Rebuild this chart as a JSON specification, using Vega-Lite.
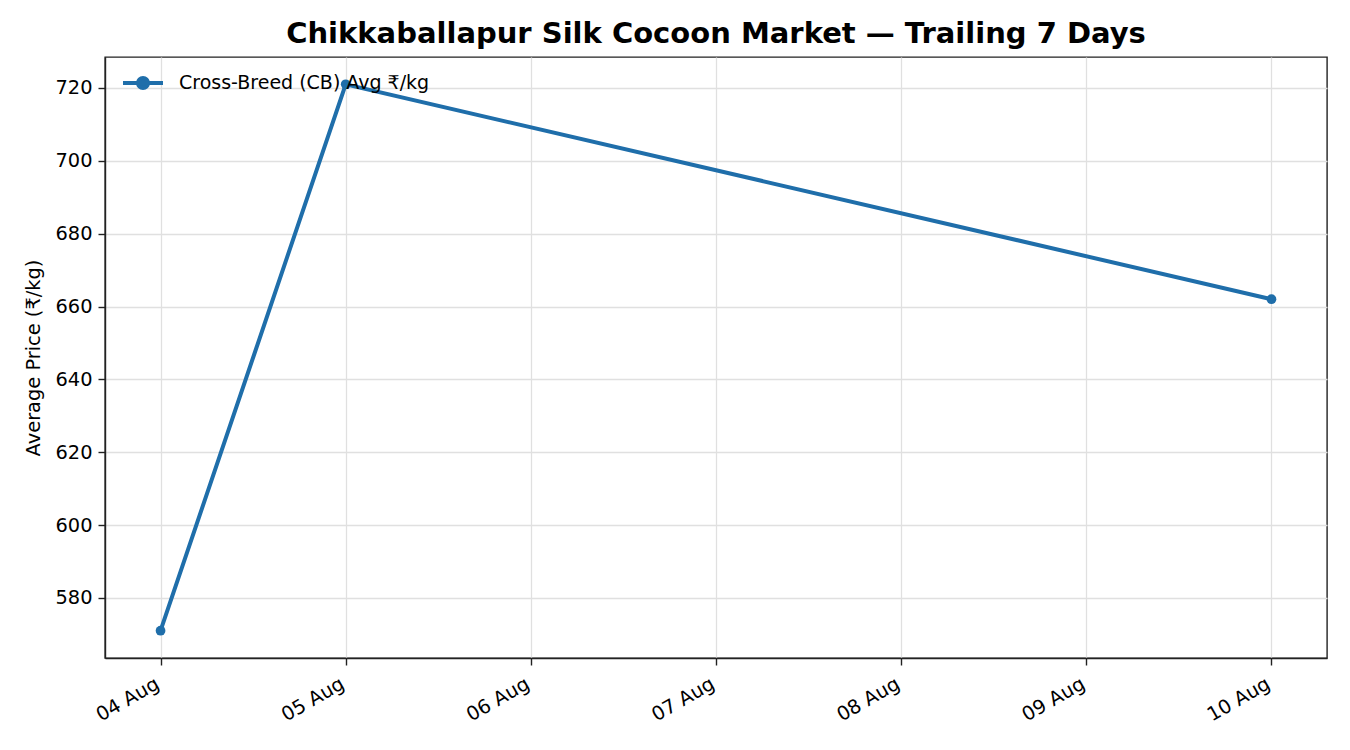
{
  "$schema": "https://vega.github.io/schema/vega-lite/v6.json",
  "autosize": "none",
  "width": 1222,
  "height": 601,
  "padding": {"left": 105, "top": 57, "right": 23, "bottom": 92},
  "background": "white",
  "title": {
    "text": "Chikkaballapur Silk Cocoon Market — Trailing 7 Days",
    "font": "DejaVu Sans",
    "fontSize": 29,
    "fontWeight": "bold",
    "color": "#000",
    "anchor": "middle",
    "offset": 8
  },
  "config": {
    "view": {"stroke": "#222", "strokeWidth": 1.4},
    "axis": {
      "labelFont": "DejaVu Sans",
      "labelFontSize": 19.4,
      "labelColor": "#000",
      "titleFont": "DejaVu Sans",
      "titleFontSize": 19.4,
      "titleFontWeight": "normal",
      "titleColor": "#000",
      "domainColor": "#222",
      "domainWidth": 1.4,
      "tickColor": "#222",
      "tickSize": 7,
      "tickWidth": 1.4,
      "gridColor": "#e0e0e0",
      "gridWidth": 1.3,
      "labelPadding": 6
    }
  },
  "data": {
    "values": [
      {"date": "2025-08-04T00:00:00Z", "price": 571, "series": "Cross-Breed (CB) Avg ₹/kg"},
      {"date": "2025-08-05T00:00:00Z", "price": 721, "series": "Cross-Breed (CB) Avg ₹/kg"},
      {"date": "2025-08-10T00:00:00Z", "price": 662, "series": "Cross-Breed (CB) Avg ₹/kg"}
    ]
  },
  "encoding": {
    "x": {
      "field": "date",
      "type": "temporal",
      "scale": {"type": "utc", "domain": ["2025-08-03T16:48:00Z", "2025-08-10T07:12:00Z"], "nice": false},
      "axis": {
        "title": null,
        "labelExpr": "utcFormat(datum.value, '%d %b')",
        "values": [
          {"year": 2025, "month": 8, "date": 4, "utc": true},
          {"year": 2025, "month": 8, "date": 5, "utc": true},
          {"year": 2025, "month": 8, "date": 6, "utc": true},
          {"year": 2025, "month": 8, "date": 7, "utc": true},
          {"year": 2025, "month": 8, "date": 8, "utc": true},
          {"year": 2025, "month": 8, "date": 9, "utc": true},
          {"year": 2025, "month": 8, "date": 10, "utc": true}
        ],
        "labelAngle": -30,
        "labelAlign": "right",
        "labelBaseline": "top",
        "labelOffset": -8,
        "labelPadding": 9,
        "labelFlush": false,
        "labelOverlap": false
      }
    },
    "y": {
      "field": "price",
      "type": "quantitative",
      "scale": {"domain": [563.5, 728.5], "nice": false, "zero": false},
      "axis": {
        "title": "Average Price (₹/kg)",
        "values": [580, 600, 620, 640, 660, 680, 700, 720],
        "titlePadding": 11
      }
    },
    "color": {
      "field": "series",
      "type": "nominal",
      "scale": {"range": ["#1f6eaa"]},
      "legend": {
        "title": null,
        "orient": "none",
        "legendX": 16,
        "legendY": 4,
        "symbolType": "M-1,0H1M0.25,0A0.25,0.25 0 1,1 -0.25,0A0.25,0.25 0 1,1 0.25,0",
        "symbolSize": 1600,
        "symbolStrokeWidth": 4,
        "labelFont": "DejaVu Sans",
        "labelFontSize": 19,
        "labelColor": "#000",
        "labelOffset": 14,
        "labelLimit": 500,
        "encode": {"symbols": {"update": {"fill": {"value": "#1f6eaa"}, "stroke": {"value": "#1f6eaa"}}}}
      }
    }
  },
  "layer": [
    {"mark": {"type": "line", "strokeWidth": 4}},
    {"mark": {"type": "point", "filled": true, "size": 95, "opacity": 1}}
  ]
}
